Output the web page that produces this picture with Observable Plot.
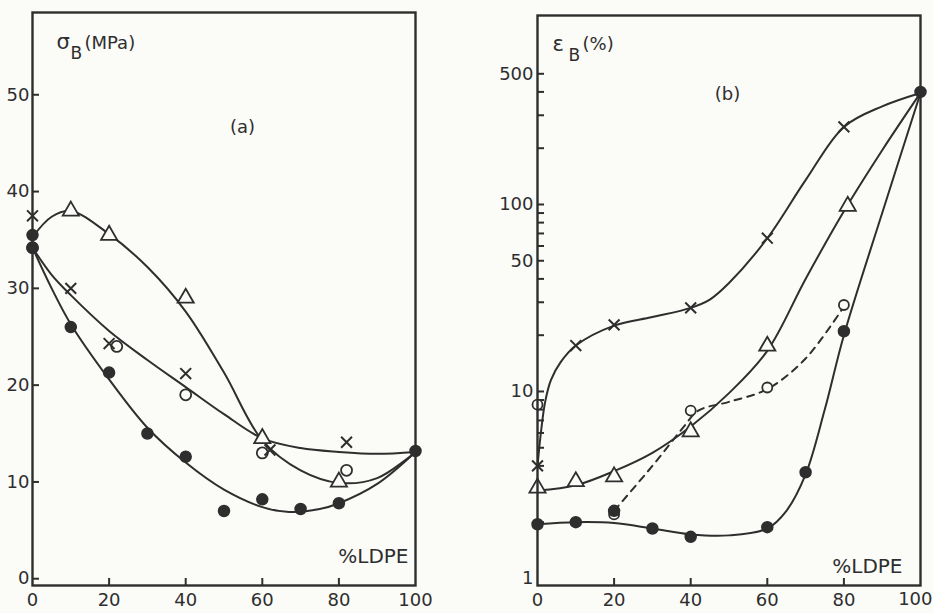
<!DOCTYPE html>
<html><head><meta charset="utf-8">
<script src="https://cdn.jsdelivr.net/npm/d3@7"></script>
<script src="https://cdn.jsdelivr.net/npm/@observablehq/plot@0.6"></script>
<style>
html,body{margin:0;padding:0;background:#fbfbf8;}
#wrap{position:relative;width:933px;height:613px;overflow:hidden;background:#fbfbf8;}
#a{position:absolute;left:0;top:0;}
#b{position:absolute;left:468px;top:0;}
</style></head><body><div id="wrap"><div id="a"></div><div id="b"></div></div>
<script>
// ---------- shared ticks ----------
const xTickLabels = [0, 20, 40, 60, 80, 100];
const xTickLabelsB = [0, 20, 40, 60, 80];
const xTickLastB = [100];
const xTickInner = [20, 40, 60, 80];

// ---------- panel (a): σB (MPa) vs %LDPE ----------
const aYTicks = [0, 10, 20, 30, 40, 50];

const aTriX = [10, 20, 40, 60, 80];
const aTriY = [38, 35.5, 29, 14.5, 10];
const aTriCurveX = [0, 5, 10, 20, 30, 40, 50, 60, 70, 80, 90, 100];
const aTriCurveY = [35.3, 37.4, 38, 35.6, 32.2, 27.6, 21.3, 14.3, 11.2, 9.9, 10.4, 13.1];

const aCrossX = [0, 10, 20, 40, 62, 82];
const aCrossY = [37.5, 30, 24.3, 21.2, 13.3, 14.1];
const aOpenX = [0, 22, 40, 60, 82];
const aOpenY = [34.2, 24, 19, 13, 11.2];
const aMidCurveX = [0, 5, 10, 20, 30, 40, 50, 60, 70, 80, 90, 100];
const aMidCurveY = [34.2, 31.4, 29.3, 25.6, 22.6, 19.8, 17, 14.5, 13.5, 13.1, 12.9, 13.1];

const aFillX = [0, 0, 10, 20, 30, 40, 50, 60, 70, 80, 100];
const aFillY = [35.5, 34.2, 26, 21.3, 15, 12.6, 7, 8.2, 7.2, 7.8, 13.2];
const aFillCurveX = [0, 5, 10, 20, 30, 40, 50, 60, 67, 75, 80, 90, 100];
const aFillCurveY = [34.2, 30, 26.3, 20.6, 15.6, 12, 9.2, 7.4, 6.9, 7.2, 7.8, 9.8, 13.1];

// ---------- panel (b): εB (%) vs %LDPE (log) ----------
const bYLabels = [1, 10, 50, 100, 500];
const bYTicks = [2,3,4,5,6,7,8,9,10,20,30,40,50,60,70,80,90,100,200,300,400,500];

const bCrossX = [0, 10, 20, 40, 60, 80];
const bCrossY = [4.0, 17.6, 22.7, 28, 66, 260];
const bCrossCurveX = [0, 1, 2, 3.5, 6, 10, 20, 30, 40, 45, 50, 60, 70, 80, 90, 100];
const bCrossCurveY = [4, 6.3, 8.8, 11.5, 14.3, 17.6, 22.5, 25, 28, 31, 38, 66, 135, 260, 335, 395];

const bTriX = [0, 10, 20, 40, 60, 81];
const bTriY = [3.05, 3.3, 3.5, 6.1, 17.5, 98];
const bTriCurveX = [0, 10, 20, 30, 40, 50, 60, 70, 80, 90, 100];
const bTriCurveY = [2.95, 3.15, 3.75, 4.7, 6.5, 9.8, 16.5, 40, 92, 195, 395];

const bOpenX = [0, 20, 40, 60, 80];
const bOpenY = [8.5, 2.2, 7.9, 10.5, 29];
const bDashX = [20, 30, 38, 42, 50, 60, 70, 80];
const bDashY = [2.3, 4, 6.4, 7.9, 8.8, 10.3, 15, 28.5];

const bFillX = [0, 10, 20, 30, 40, 60, 70, 80, 100];
const bFillY = [1.95, 2.0, 2.3, 1.85, 1.67, 1.88, 3.7, 21, 400];
const bFillCurveX = [0, 10, 20, 30, 40, 50, 60, 65, 70, 75, 80, 90, 100];
const bFillCurveY = [1.95, 2.0, 1.98, 1.85, 1.72, 1.7, 1.85, 2.3, 3.6, 8, 20, 90, 395];

// ---------- helpers ----------
const ink = "#2e2e2e";
const bg = "#fbfbf8";
const font = "'DejaVu Sans', sans-serif";
const TICK = 7;
const pts = (xs, ys) => xs.map((x, i) => ({x, y: ys[i]}));
const curve = (xs, ys, extra = {}) =>
  Plot.line(pts(xs, ys), {x: "x", y: "y", curve: "catmull-rom", stroke: ink, strokeWidth: 2, ...extra});
const openM = (xs, ys, symbol, r) =>
  Plot.dot(pts(xs, ys), {x: "x", y: "y", symbol, r, fill: bg, stroke: ink, strokeWidth: 1.8});
const fillM = (xs, ys, r) =>
  Plot.dot(pts(xs, ys), {x: "x", y: "y", symbol: "circle", r, fill: ink, stroke: ink});
const crossM = (xs, ys, r) =>
  Plot.dot(pts(xs, ys), {x: "x", y: "y", symbol: "times", r, stroke: ink, strokeWidth: 2});
const label = (t, anchor, dx, dy, size, ta = "start") =>
  Plot.text([t], {text: d => d, frameAnchor: anchor, dx, dy, fontSize: size, textAnchor: ta, fill: ink});
// inward ticks: rules inset so that only the TICK pixels next to the frame remain
const innerTicksX = (ticks, plotH) =>
  Plot.ruleX(ticks, {x: d => d, insetTop: plotH - TICK, stroke: ink, strokeWidth: 2});
const innerTicksY = (ticks, plotW) =>
  Plot.ruleY(ticks, {y: d => d, insetRight: plotW - TICK, stroke: ink, strokeWidth: 2});

// ---------- panel (a) ----------
const A = {width: 470, height: 613, marginLeft: 32, marginRight: 55, marginTop: 12, marginBottom: 28};
const aW = A.width - A.marginLeft - A.marginRight;
const aH = A.height - A.marginTop - A.marginBottom;
const plotA = Plot.plot({
  ...A,
  style: {background: "transparent", fontFamily: font, fontSize: "18px", color: ink},
  x: {domain: [0, 100]},
  y: {domain: [-0.7, 58.5]},
  marks: [
    Plot.axisX({ticks: xTickLabels, tickSize: 0, tickPadding: 8, label: null, fontSize: 18}),
    Plot.axisY({ticks: aYTicks, tickSize: 0, tickPadding: 3, label: null, fontSize: 18}),
    innerTicksX(xTickInner, aH),
    innerTicksY(aYTicks, aW),
    curve(aTriCurveX, aTriCurveY),
    curve(aMidCurveX, aMidCurveY),
    curve(aFillCurveX, aFillCurveY),
    openM(aTriX, aTriY, "triangle", 6),
    openM(aOpenX, aOpenY, "circle", 5.5),
    crossM(aCrossX, aCrossY, 5),
    fillM(aFillX, aFillY, 5.5),
    Plot.frame({stroke: ink, strokeWidth: 2.4}),
    label("σ", "top-left", 24, 22, 21),
    label("B", "top-left", 38, 34, 17),
    label("(MPa)", "top-left", 52, 24, 18),
    label("(a)", "top-left", 210, 108, 18, "middle"),
    label("%LDPE", "bottom-right", -7, -23, 20, "end")
  ]
});
document.getElementById("a").append(plotA);

// ---------- panel (b) ----------
const B = {width: 465, height: 613, marginLeft: 69, marginRight: 13, marginTop: 15, marginBottom: 28};
const bW = B.width - B.marginLeft - B.marginRight;
const bH = B.height - B.marginTop - B.marginBottom;
const plotB = Plot.plot({
  ...B,
  style: {background: "transparent", fontFamily: font, fontSize: "18px", color: ink},
  x: {domain: [0, 100]},
  y: {type: "log", domain: [0.917, 1025], axis: null},
  marks: [
    Plot.axisX({ticks: xTickLabelsB, tickSize: 0, tickPadding: 8, label: null, fontSize: 18}),
    Plot.text(xTickLastB, {x: d => d, text: d => String(d), frameAnchor: "bottom", dy: 19, dx: 12,
      textAnchor: "end", fontSize: 18, fill: ink}),
    Plot.text(bYLabels, {y: d => d, text: d => String(d), frameAnchor: "left", dx: -4,
      textAnchor: "end", fontSize: 18, fill: ink}),
    innerTicksX(xTickInner, bH),
    innerTicksY(bYTicks, bW),
    curve(bCrossCurveX, bCrossCurveY),
    curve(bTriCurveX, bTriCurveY),
    curve(bDashX, bDashY, {strokeDasharray: "7,6"}),
    curve(bFillCurveX, bFillCurveY),
    openM(bTriX, bTriY, "triangle", 6),
    openM(bOpenX, bOpenY, "circle", 5),
    crossM(bCrossX, bCrossY, 5),
    fillM(bFillX, bFillY, 5.5),
    Plot.frame({stroke: ink, strokeWidth: 2.4}),
    label("ε", "top-left", 15, 21, 21),
    label("B", "top-left", 31, 33, 17),
    label("(%)", "top-left", 45, 22, 18),
    label("(b)", "top-left", 190, 72, 18, "middle"),
    label("%LDPE", "bottom-right", -18, -13, 20, "end")
  ]
});
document.getElementById("b").append(plotB);
</script></body></html>
